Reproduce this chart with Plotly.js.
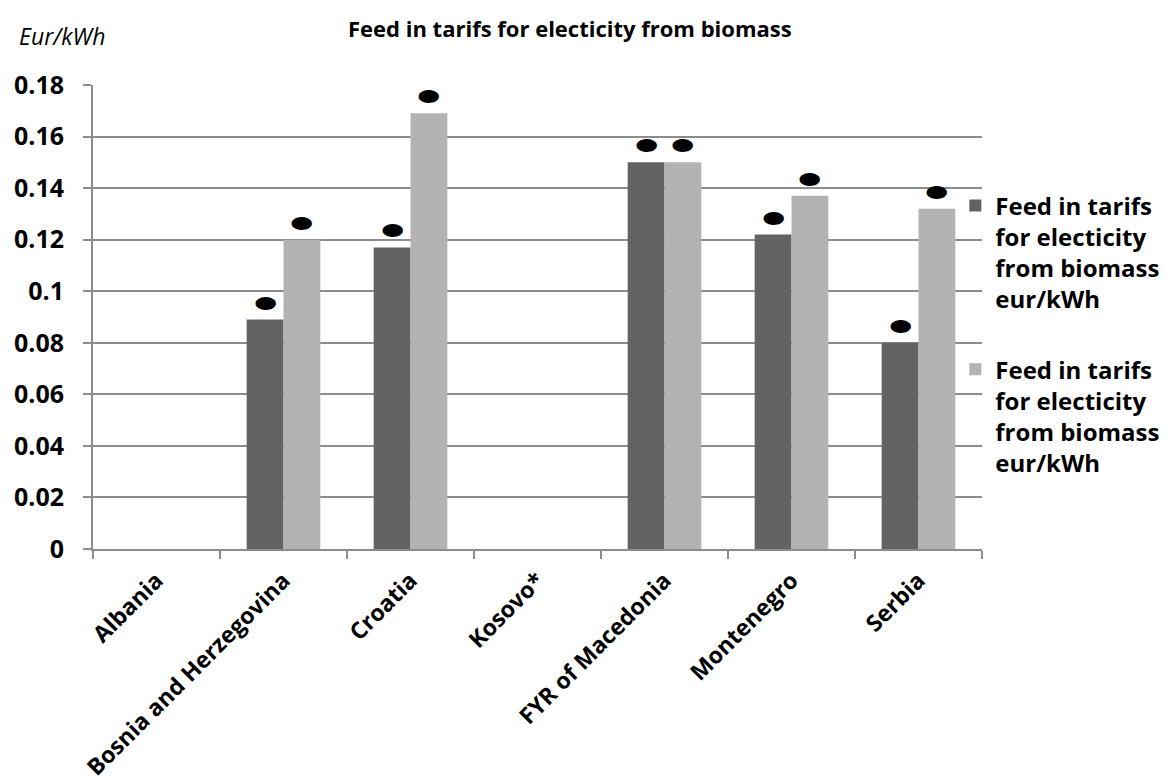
<!DOCTYPE html>
<html>
<head>
<meta charset="utf-8">
<script src="https://cdn.plot.ly/plotly-3.0.1.min.js"></script>
<style>body{margin:0;background:#fff}#chart{width:1166px;height:782px}</style>
</head>
<body>
<div id="chart"></div>
<script>
// Countries on the category axis
const countries = ["Albania", "Bosnia and Herzegovina", "Croatia", "Kosovo*", "FYR of Macedonia", "Montenegro", "Serbia"];
// Lower and upper tariff, eur/kWh (null = no tariff)
const tariffLow  = [null, 0.089, 0.117, null, 0.150, 0.122, 0.080];
const tariffHigh = [null, 0.120, 0.169, null, 0.150, 0.137, 0.132];
const seriesName = "Feed in tarifs<br>for electicity<br>from biomass<br>eur/kWh";
const yTicks = [0, 0.02, 0.04, 0.06, 0.08, 0.1, 0.12, 0.14, 0.16, 0.18];
const yTickText = ["0", "0.02", "0.04", "0.06", "0.08", "0.1", "0.12", "0.14", "0.16", "0.18"];

const FONT = "'Open Sans', Lato, sans-serif";
const labelGlyph = v => (v === null ? "" : "⬬");

function barTrace(vals, color, group) {
  return {
    type: "bar",
    x: countries,
    y: vals,
    name: seriesName,
    legendgroup: group,
    marker: {color: color},
    text: vals.map(labelGlyph),
    textposition: "outside",
    textfont: {family: "DejaVu Sans", size: 25, color: "#000"},
    cliponaxis: false,
    hoverinfo: "x+y"
  };
}

const data = [barTrace(tariffLow, "#636363", "low"), barTrace(tariffHigh, "#b3b3b3", "high")];

const layout = {
  width: 1166, height: 782,
  margin: {l: 93, r: 184, t: 85, b: 233, autoexpand: false},
  paper_bgcolor: "#fff", plot_bgcolor: "#fff",
  barmode: "group", bargap: 0.42, bargroupgap: 0,
  font: {family: FONT, color: "#000"},
  showlegend: true,
  legend: {
    x: 0.970, xanchor: "left", y: 0.788, yanchor: "top",
    valign: "top", tracegroupgap: 36,
    font: {family: FONT, size: 24, color: "#000", weight: "bold"},
    itemwidth: 30, bgcolor: "rgba(0,0,0,0)"
  },
  xaxis: {
    type: "category",
    tickangle: -45,
    tickfont: {family: FONT, size: 23, weight: "bold", color: "#000"},
    ticks: "outside", tickson: "boundaries", ticklen: 8, tickcolor: "#8c8c8c", tickwidth: 2,
    ticklabelstandoff: 7,
    showline: true, linecolor: "#8c8c8c", linewidth: 2,
    showgrid: false
  },
  yaxis: {
    range: [0, 0.18],
    tickvals: yTicks, ticktext: yTickText,
    tickfont: {family: FONT, size: 25, weight: "bold", color: "#000"},
    ticks: "outside", ticklen: 8, tickcolor: "#8c8c8c", tickwidth: 2,
    ticklabelstandoff: 14,
    showline: true, linecolor: "#8c8c8c", linewidth: 2,
    showgrid: true, gridcolor: "#8c8c8c", gridwidth: 2,
    zeroline: false
  },
  annotations: [
    {text: "Feed in tarifs for electicity from biomass", xref: "paper", yref: "paper",
     x: 0.536, y: 1, yanchor: "middle", yshift: 57, showarrow: false,
     font: {family: FONT, size: 22, weight: "bold", color: "#000"}},
    {text: "Eur/kWh", xref: "paper", yref: "paper", x: -0.085, xanchor: "left",
     y: 1, yanchor: "middle", yshift: 49, showarrow: false,
     font: {family: FONT, size: 23, style: "italic", color: "#000"}}
  ]
};

Plotly.newPlot("chart", data, layout, {displayModeBar: false, staticPlot: true});
</script>
</body>
</html>
